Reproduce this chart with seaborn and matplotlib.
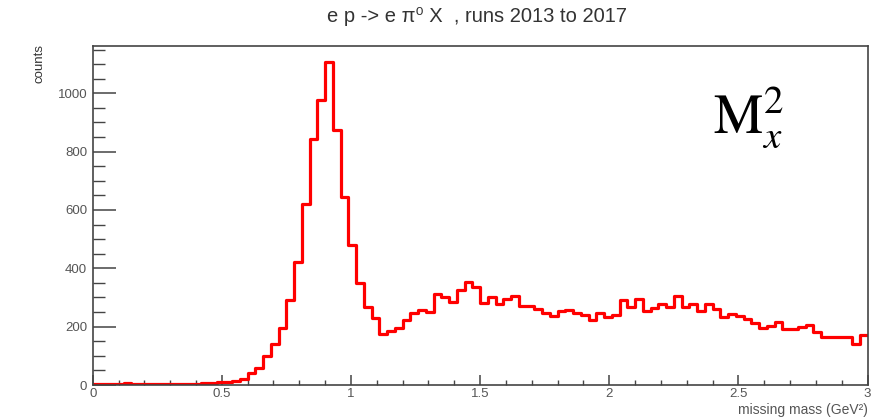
import numpy as np
import pandas as pd
import matplotlib
matplotlib.use("Agg")
import matplotlib.pyplot as plt
import seaborn as sns
from matplotlib.ticker import MultipleLocator, FixedLocator, FixedFormatter

# ---- data ----
bin_low = 0.0
bin_high = 3.0
n_bins = 100
counts = [3, 5, 4, 3, 6, 4, 3, 5, 4, 3, 5, 4, 2, 3, 6, 8,
          9, 10, 12, 19, 41, 59, 99, 139, 196, 291, 421, 620, 843, 977,
          1106, 874, 646, 480, 351, 266, 229, 175, 186, 197,
          223, 246, 257, 251, 311, 301, 286, 326, 354, 335,
          282, 301, 278, 294, 305, 271, 271, 259, 248, 237,
          254, 257, 248, 240, 223, 248, 234, 240, 291, 266,
          296, 255, 263, 278, 269, 305, 266, 278, 255, 278,
          259, 232, 242, 238, 225, 214, 194, 202, 217, 191,
          191, 198, 206, 183, 166, 166, 166, 166, 141, 171]
x_ticks = [0, 0.5, 1, 1.5, 2, 2.5, 3]
x_tick_labels = ["0", "0.5", "1", "1.5", "2", "2.5", "3"]
y_ticks = [0, 200, 400, 600, 800, 1000]
y_tick_labels = ["0", "200", "400", "600", "800", "1000"]
title = "e p -> e \u03c0\u2070 X  , runs 2013 to 2017"
y_label = "counts"
x_label = "missing mass (GeV\u00b2)"
annotation = r"$\mathrm{M}_{x}^{2}$"

edges = np.linspace(bin_low, bin_high, n_bins + 1)
centers = 0.5 * (edges[:-1] + edges[1:])
df = pd.DataFrame({"mass": centers, "counts": counts})

sns.set_style("white")
plt.rcParams["font.family"] = ["Liberation Sans", "DejaVu Sans"]
plt.rcParams["mathtext.fontset"] = "stix"

fig = plt.figure(figsize=(8.95, 4.19), dpi=100)
ax = fig.add_axes([92.7 / 895, 1 - 385 / 419, (867.5 - 92.7) / 895, (385 - 46) / 419])

sns.histplot(data=df, x="mass", weights="counts", bins=edges.tolist(), element="step",
             fill=False, color="#ff0000", linewidth=2.3, ax=ax)

ax.set_xlim(bin_low, bin_high)
ax.set_ylim(0, 1162)
ax.set_xlabel("")
ax.set_ylabel("")

ax.xaxis.set_major_locator(FixedLocator(x_ticks))
ax.xaxis.set_major_formatter(FixedFormatter(x_tick_labels))
ax.xaxis.set_minor_locator(MultipleLocator(0.1))
ax.yaxis.set_major_locator(FixedLocator(y_ticks))
ax.yaxis.set_major_formatter(FixedFormatter(y_tick_labels))
ax.yaxis.set_minor_locator(MultipleLocator(50))

tick_col = "#444444"
ax.tick_params(axis="x", which="major", direction="in", length=7.2, width=1.1,
               color=tick_col, labelsize=9.5, labelcolor="#555555", pad=2,
               bottom=True, top=False)
ax.tick_params(axis="x", which="minor", direction="in", length=3.6, width=1.0,
               color=tick_col, bottom=True, top=False)
ax.tick_params(axis="y", which="major", direction="in", length=16.5, width=1.1,
               color=tick_col, labelsize=9.5, labelcolor="#555555", pad=4,
               left=True, right=False)
ax.tick_params(axis="y", which="minor", direction="in", length=8.5, width=1.0,
               color=tick_col, left=True, right=False)

for side in ["left", "right", "top", "bottom"]:
    ax.spines[side].set_visible(True)
    ax.spines[side].set_color("#444444")
    ax.spines[side].set_linewidth(1.2)

fig.text(477 / 895, 1 - 16 / 419, title, ha="center", va="center",
         fontsize=14.5, color="#333333")
fig.text(40 / 895, 1 - 44 / 419, y_label, rotation=90, ha="center", va="top",
         fontsize=9.5, color="#333333")
fig.text(868 / 895, 1 - 410 / 419, x_label, ha="right", va="center",
         fontsize=10, color="#555555")
ax.text(0.80, 0.743, annotation, transform=ax.transAxes, ha="left",
        va="baseline", fontsize=40, color="black")

fig.savefig("out.png", dpi=100)
